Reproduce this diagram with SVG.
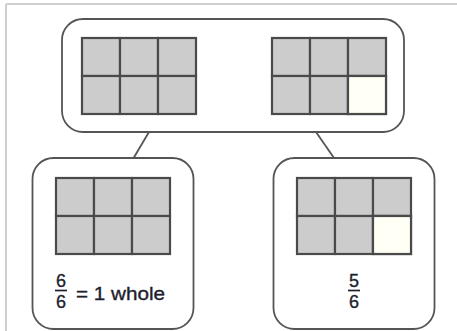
<svg xmlns="http://www.w3.org/2000/svg" xmlns:xlink="http://www.w3.org/1999/xlink" width="457" height="331" viewBox="0 0 457 331">
  <style>
    .frame { stroke: #cfcfcf; stroke-width: 2; fill: none; }
    .node { fill: #ffffff; stroke: #555555; stroke-width: 1.8; }
    .cell { fill: #cccccc; stroke: #4a4a4a; stroke-width: 2.2; }
    .empty { fill: #fffff6; stroke: #4a4a4a; stroke-width: 2.2; }
    .conn { stroke: #555555; stroke-width: 1.8; fill: none; }
    .txt { font-family: "Liberation Sans", Arial, sans-serif; fill: #1e1e2e; stroke: #1e1e2e; stroke-width: 0.35; }
    .bar { stroke: #1e1e2e; stroke-width: 1.7; }
  </style>
  <defs>
    <g id="grid6">
      <rect class="cell" x="0" y="0" width="38" height="38"/>
      <rect class="cell" x="38" y="0" width="38" height="38"/>
      <rect class="cell" x="76" y="0" width="38" height="38"/>
      <rect class="cell" x="0" y="38" width="38" height="38"/>
      <rect class="cell" x="38" y="38" width="38" height="38"/>
      <rect class="cell" x="76" y="38" width="38" height="38"/>
    </g>
    <g id="grid5">
      <use xlink:href="#grid6"/>
      <rect class="empty" x="76" y="38" width="38" height="38"/>
    </g>
  </defs>
  <rect width="457" height="331" fill="#ffffff"/>
  <line class="frame" x1="6" y1="4" x2="6" y2="331"/>
  <line class="frame" x1="6" y1="4" x2="457" y2="4"/>

  <g id="connectors">
    <line class="conn" x1="149" y1="132" x2="133" y2="159"/>
    <line class="conn" x1="316" y1="132" x2="334" y2="158"/>
  </g>

  <g id="top">
    <rect class="node" x="62" y="19" width="342" height="113" rx="21"/>
    <use xlink:href="#grid6" x="82" y="38"/>
    <use xlink:href="#grid5" x="272" y="38"/>
  </g>

  <g id="left">
    <rect class="node" x="32.5" y="158" width="161" height="171" rx="21"/>
    <use xlink:href="#grid6" x="56" y="178"/>
    <text class="txt" x="61" y="287" font-size="18" text-anchor="middle">6</text>
    <line class="bar" x1="55" y1="290.5" x2="67" y2="290.5"/>
    <text class="txt" x="61" y="307.5" font-size="18" text-anchor="middle">6</text>
    <text class="txt" x="76" y="300" font-size="18.5" textLength="89" lengthAdjust="spacingAndGlyphs">= 1 whole</text>
  </g>

  <g id="right">
    <rect class="node" x="273.5" y="158" width="161" height="171" rx="21"/>
    <use xlink:href="#grid5" x="297" y="178"/>
    <text class="txt" x="354" y="287" font-size="18" text-anchor="middle">5</text>
    <line class="bar" x1="348" y1="290.5" x2="360" y2="290.5"/>
    <text class="txt" x="354" y="307.5" font-size="18" text-anchor="middle">6</text>
  </g>
</svg>
